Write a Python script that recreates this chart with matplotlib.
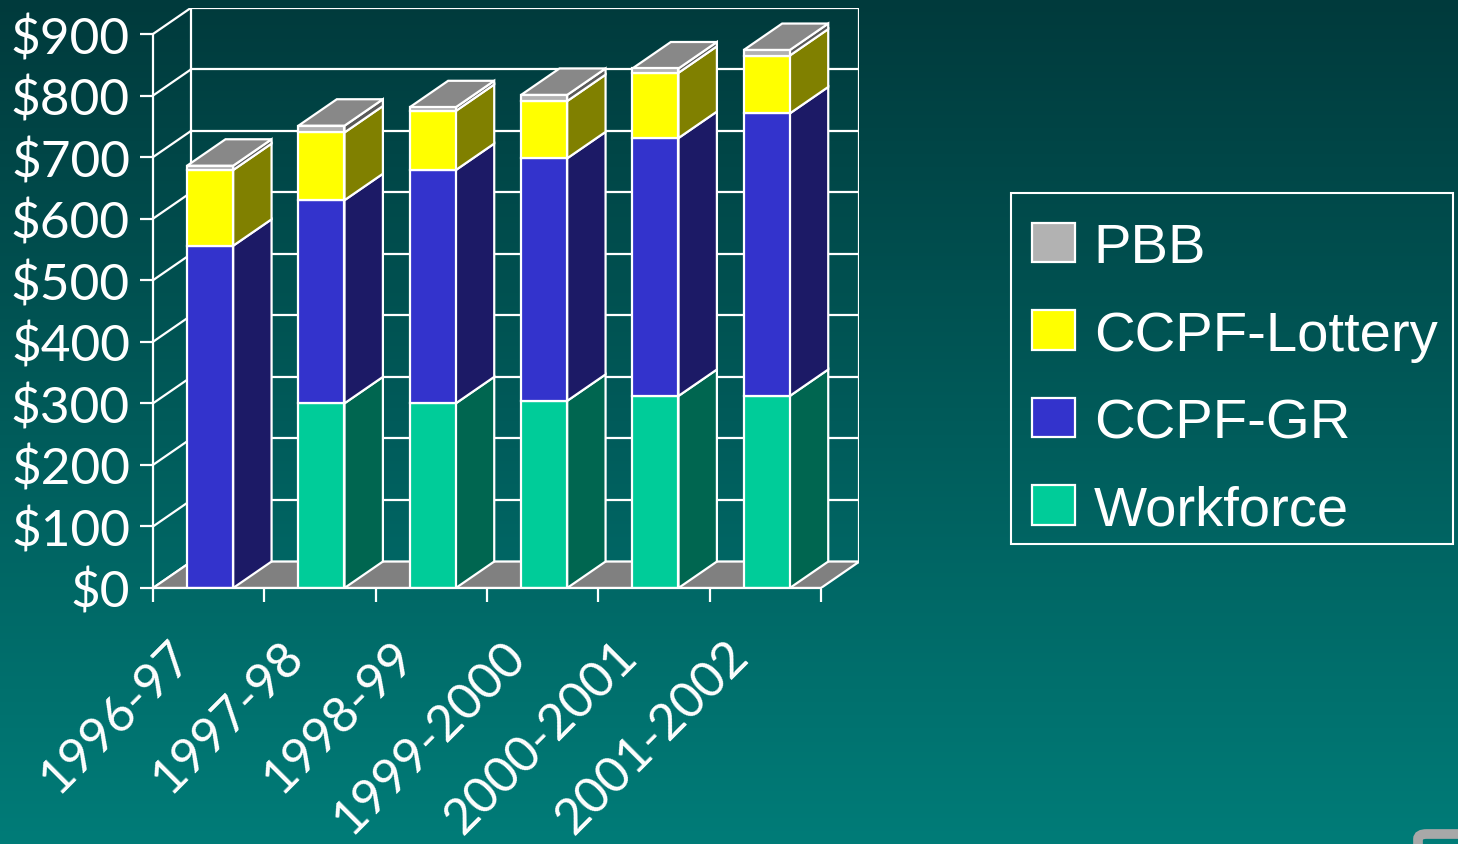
import matplotlib
matplotlib.use("Agg")
import matplotlib.pyplot as plt
import numpy as np
from matplotlib.patches import Polygon, Rectangle, Patch, FancyBboxPatch
from matplotlib.transforms import ScaledTranslation

# ---- data ($ millions) ----
categories = ["1996-97", "1997-98", "1998-99", "1999-2000", "2000-2001", "2001-2002"]
workforce = [0, 300, 300, 304, 312, 312]
ccpf_gr = [556, 330, 379, 394, 419, 459]
ccpf_lottery = [123, 110, 96, 93, 106, 94]
pbb = [7, 11, 6, 10, 7, 9]

y_ticks = list(range(0, 1000, 100))
legend_order = ["PBB", "CCPF-Lottery", "CCPF-GR", "Workforce"]

# series: (name, values, front colour, side colour), bottom to top
series = [
    ("Workforce", workforce, "#00CC99", "#006650"),
    ("CCPF-GR", ccpf_gr, "#3333CC", "#1C1A66"),
    ("CCPF-Lottery", ccpf_lottery, "#FFFF00", "#808000"),
    ("PBB", pbb, "#B2B2B2", "#5A5A5A"),
]
TOP_COLOUR = "#888888"
FLOOR_COLOUR = "#808080"
EDGE = "white"
LW = 1.6

# 3-D look: depth offset in data units
DX, DY = 0.345, 43
BAR_OFF, BAR_W = 0.306, 0.414
YMAX = 900
W, H = 1458, 845

fig = plt.figure(figsize=(W / 100, H / 100), dpi=100)

# background gradient
bg = fig.add_axes([0, 0, 1, 1], zorder=-10)
top = np.array([0, 58, 60]) / 255
bot = np.array([0, 124, 120]) / 255
t = np.linspace(0, 1, 256)[:, None]
grad = (top[None, :] * (1 - t) + bot[None, :] * t)[:, None, :]
bg.imshow(grad, aspect="auto", extent=[0, 1, 0, 1], origin="upper")
bg.set_axis_off()

# decorative slide frame corner (bottom right)
fig.patches.append(FancyBboxPatch(
    (1418 / W, -0.2), 0.2, 0.2 + 10 / H, boxstyle="round,pad=0,rounding_size=0.006",
    transform=fig.transFigure, fc="none", ec="#A8A8A8", lw=7))

px_x = (821 - 153) / 6
px_y = (589 - 35) / YMAX
ax_w = (6 + DX) * px_x
ax_h = (YMAX + DY) * px_y
ax = fig.add_axes([153 / W, (H - 589) / H, ax_w / W, ax_h / H])
ax.set_xlim(0, 6 + DX)
ax.set_ylim(0, YMAX + DY)
ax.patch.set_alpha(0)

# walls: back wall grid, left wall diagonals
line_kw = dict(color=EDGE, lw=LW, solid_capstyle="projecting", zorder=1)
for v in y_ticks:
    ax.plot([DX, 6 + DX], [v + DY, v + DY], **line_kw)
    ax.plot([0, DX], [v, v + DY], **line_kw)
ax.plot([DX, DX], [DY, YMAX + DY], **line_kw)
ax.plot([6 + DX, 6 + DX], [DY, YMAX + DY], **line_kw)

# floor
ax.add_patch(Polygon([(0, 0), (6, 0), (6 + DX, DY), (DX, DY)], closed=True,
                     fc=FLOOR_COLOUR, ec=EDGE, lw=LW, zorder=2, joinstyle="miter"))

# stacked 3-D bars
for i in range(len(categories)):
    x0 = i + BAR_OFF
    x1 = x0 + BAR_W
    base = 0
    for name, vals, front, side in series:
        v = vals[i]
        if v <= 0:
            continue
        top_v = base + v
        ax.add_patch(Polygon([(x1, base), (x1 + DX, base + DY), (x1 + DX, top_v + DY), (x1, top_v)],
                             closed=True, fc=side, ec=EDGE, lw=LW, zorder=3, joinstyle="miter"))
        ax.add_patch(Rectangle((x0, base), BAR_W, v, fc=front, ec=EDGE, lw=LW, zorder=4,
                               joinstyle="miter"))
        base = top_v
    ax.add_patch(Polygon([(x0, base), (x1, base), (x1 + DX, base + DY), (x0 + DX, base + DY)],
                         closed=True, fc=TOP_COLOUR, ec=EDGE, lw=LW, zorder=3, joinstyle="miter"))

# front axes
for s in ["top", "right"]:
    ax.spines[s].set_visible(False)
ax.spines["left"].set_bounds(0, YMAX)
ax.spines["bottom"].set_bounds(0, 6)
for s in ["left", "bottom"]:
    ax.spines[s].set_color(EDGE)
    ax.spines[s].set_linewidth(LW)
    ax.spines[s].set_zorder(5)

ax.set_yticks(y_ticks)
ax.set_yticklabels([f"${v}" for v in y_ticks])
ax.tick_params(axis="y", colors=EDGE, length=9.5, width=LW, pad=7,
               labelsize=37, labelcolor="white")
ax.set_xticks(range(7))
ax.set_xticklabels([])
ax.tick_params(axis="x", which="major", colors=EDGE, length=10, width=LW)
ax.set_xticks(np.arange(len(categories)) + 0.5, minor=True)
ax.set_xticklabels(categories, minor=True)
ax.tick_params(axis="x", which="minor", length=0, pad=43, labelsize=36, labelcolor="white")
for lbl in ax.get_xticklabels(minor=True):
    lbl.set_rotation(45)
    lbl.set_ha("right")
    lbl.set_va("center")
    lbl.set_rotation_mode("anchor")
    lbl.set_transform(lbl.get_transform() + ScaledTranslation(-24 / 100, 0, fig.dpi_scale_trans))
for lbl in ax.get_yticklabels() + ax.get_xticklabels(minor=True):
    lbl.set_fontfamily("Lato")

# legend box drawn separately so the entries can sit where the reference has them
fig.patches.append(Rectangle((1011 / W, 1 - 545 / H), 442 / W, 351 / H,
                             transform=fig.transFigure, fc="none", ec="white", lw=1.5))
colour_of = {name: front for name, _, front, _ in series}
handles = [Patch(fc=colour_of[n], ec=EDGE, lw=LW, label=n) for n in legend_order]
fig.legend(handles=handles, loc="upper left",
           bbox_to_anchor=(1011 / W, 1 - 202 / H), bbox_transform=fig.transFigure,
           borderaxespad=0, borderpad=0.38, labelspacing=0.63,
           handlelength=0.76, handleheight=0.7, handletextpad=0.33,
           prop={"family": "Liberation Sans", "size": 40.5}, labelcolor="white",
           frameon=False)

fig.savefig("out.png", dpi=100)
